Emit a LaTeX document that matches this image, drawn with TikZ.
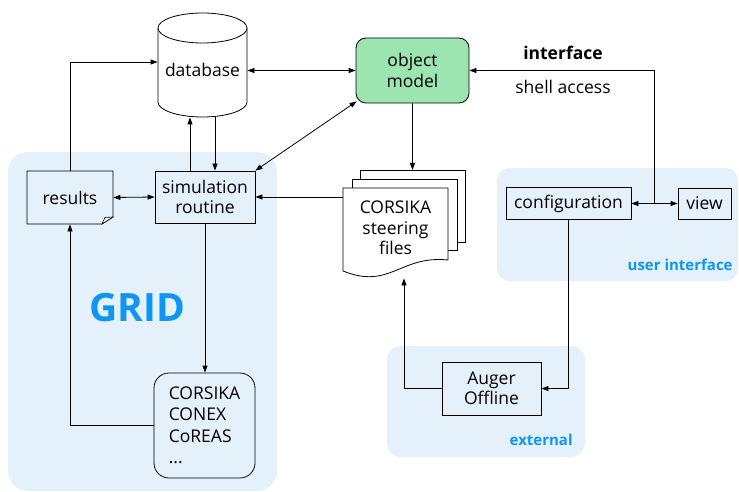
\documentclass[tikz,border=0pt]{standalone}
\usepackage{fontspec}
\setmainfont{Open Sans}
\usetikzlibrary{arrows.meta}
\definecolor{regionfill}{RGB}{228,241,251}
\definecolor{omgreen}{RGB}{157,229,176}
\definecolor{labelblue}{RGB}{14,150,242}
\newcommand\myfs{\fontsize{17.5}{20.5}\selectfont}
\begin{document}
\begin{tikzpicture}[x=1pt,y=-1pt, line width=0.8pt,
  >={Triangle[length=7pt,width=5pt]},
  region/.style={fill=regionfill, draw=none},
  box/.style={draw, rectangle, fill=regionfill, inner sep=0pt, align=center, font=\myfs},
  plain/.style={rectangle, inner sep=0pt, align=center, font=\myfs},
  tag/.style={font=\bfseries\fontsize{15}{18}\selectfont, text=labelblue, inner sep=0pt, anchor=base east}]
\useasboundingbox (0,0) rectangle (739,492);
% regions
\fill[region, rounded corners=20pt] (8,152) rectangle (277,491);
\fill[region, rounded corners=12pt] (497,168) rectangle (738,281);
\fill[region, rounded corners=14pt] (387,346) rectangle (585,457);
% database cylinder
\draw[fill=white] (158,28) -- (158,102) arc[start angle=180, end angle=360, x radius=44.5pt, y radius=15pt] -- (247,28);
\draw[fill=white] (202.5,28) ellipse [x radius=44.5pt, y radius=15pt];
% results document
\draw[fill=regionfill] (27,171) -- (113,171) -- (113,217) -- (102,224) -- (27,224) -- cycle;
\draw[fill=white, line width=0.6pt] (102,224) -- (105,217.5) -- (113,217) -- cycle;
% steering files stack
\draw[fill=white] (360,170) rectangle (465,242);
\draw[fill=white] (352,179) rectangle (457,250);
\draw[fill=white] (343,188) -- (448,188) -- (448,260) .. controls (400,255) and (390,290) .. (343,271) -- cycle;
% nodes
\node[plain, minimum width=89pt, minimum height=94pt] (db) at (202.5,70) {database};
\node[box, fill=omgreen, rounded corners=10pt, minimum width=113pt, minimum height=65pt] (om) at (412.5,70.5) {object\\model};
\node[box, minimum width=86pt, minimum height=53pt, draw=none, fill=none] (results) at (70,197.5) {results};
\node[box, minimum width=100pt, minimum height=52pt] (sim) at (205,197) {simulation\\routine};
\node[plain, minimum width=105pt, minimum height=100pt] (sf) at (395.5,228) {CORSIKA\\steering\\files};
\coordinate (sftop) at (412.5,170);
\node[box, minimum width=125pt, minimum height=32pt] (config) at (568.5,203.5) {configuration};
\node[box, minimum width=53pt, minimum height=31pt] (view) at (704.5,203.5) {view};
\node[box, minimum width=99pt, minimum height=53pt] (auger) at (491.5,388.5) {Auger\\Offline};
\node[box, rounded corners=15pt, minimum width=101pt, minimum height=105pt, align=left, font=\fontsize{17.5}{21.5}\selectfont] (cors) at (204.5,425.5) {CORSIKA\\CONEX\\CoREAS\\...};
\coordinate (junc) at (654,203.5);
% labels
\node[font=\bfseries\myfs, inner sep=0pt] (iface) at (563,53) {interface};
\node[font=\myfs, inner sep=0pt] (shell) at (563,87) {shell access};
\node[font=\bfseries\fontsize{39}{44}\selectfont, text=labelblue, inner sep=0pt] (grid) at (137,308) {GRID};
\node[tag] (uil) at (733,270) {user interface};
\node[tag] (extl) at (573,445) {external};
% connectors
\draw[<->] (db.east |- om.west) -- (om.west);
\draw[<->] (results.east) -- (sim.west);
\draw[->] (results.north) |- ([yshift=8pt]db.west);
\draw[->] ([xshift=-15pt]sim.north) -- ([xshift=-15pt]sim.north |- db.south);
\draw[->] ([xshift=10pt]sim.north |- db.south) -- ([xshift=10pt]sim.north);
\draw[<->] (sim.north east) -- ([shift={(1pt,2pt)}]om.south west);
\draw[->] (om.south) -- (om.south |- sftop);
\draw[->] (sf.west |- sim.east) -- (sim.east);
\draw[<->] (config.east) -- (view.west);
\draw[->] (junc) |- (om.east);
\draw[->] (config.south) |- (auger.east);
\draw[->] (auger.west) -| ([xshift=8.5pt]sf.south);
\draw[->] (sim.south) -- (sim.south |- cors.north);
\draw[->] (cors.west) -| (results.south);
\end{tikzpicture}
\end{document}
